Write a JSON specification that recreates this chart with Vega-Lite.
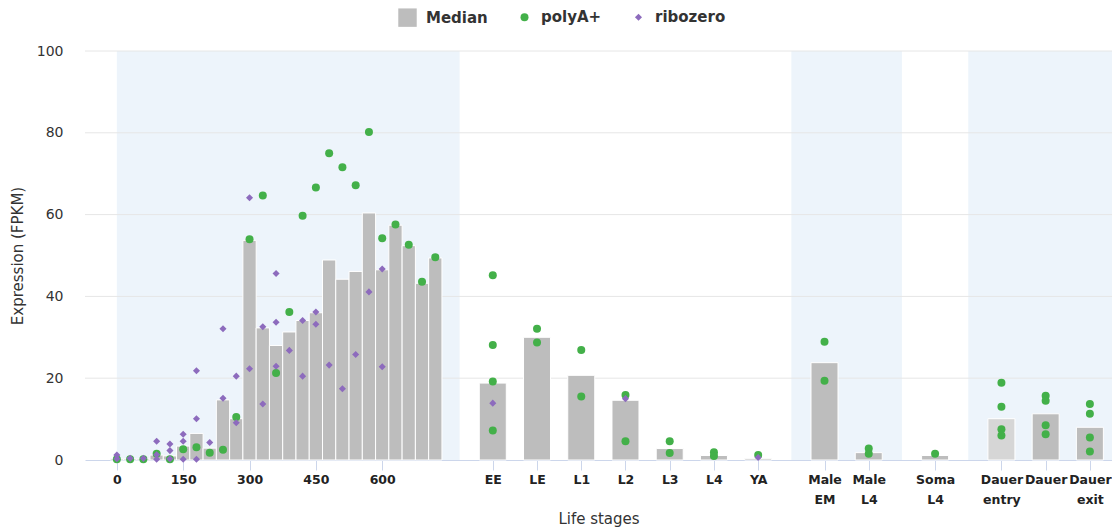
{
  "$schema": "https://vega.github.io/schema/vega-lite/v6.json",
  "width": 1027,
  "height": 409,
  "autosize": "none",
  "padding": {"left": 85, "top": 51, "right": 0, "bottom": 71},
  "background": "white",
  "config": {"font": "DejaVu Sans", "view": {"stroke": null}},
  "datasets": {
    "bands": [
      {"label": "Embryonic time series (minutes)", "pos": 0, "end": 775},
      {"label": "Classical stages", "pos": 775, "end": 1525},
      {"label": "Male", "pos": 1525, "end": 1775},
      {"label": "Soma", "pos": 1775, "end": 1925},
      {"label": "Dauer stages", "pos": 1925, "end": 2275}
    ],
    "grid": [{"g": 20}, {"g": 40}, {"g": 60}, {"g": 80}, {"g": 100}],
    "expr": [
      {"stage": "0", "pos": 0, "series": "Median", "value": 0.3},
      {"stage": "30", "pos": 30, "series": "Median", "value": 0.3},
      {"stage": "60", "pos": 60, "series": "Median", "value": 0.3},
      {"stage": "90", "pos": 90, "series": "Median", "value": 1.2},
      {"stage": "120", "pos": 120, "series": "Median", "value": 1.0},
      {"stage": "150", "pos": 150, "series": "Median", "value": 3.4},
      {"stage": "180", "pos": 180, "series": "Median", "value": 6.5},
      {"stage": "210", "pos": 210, "series": "Median", "value": 2.9},
      {"stage": "240", "pos": 240, "series": "Median", "value": 14.7},
      {"stage": "270", "pos": 270, "series": "Median", "value": 10.1},
      {"stage": "300", "pos": 300, "series": "Median", "value": 53.7},
      {"stage": "330", "pos": 330, "series": "Median", "value": 32.3},
      {"stage": "360", "pos": 360, "series": "Median", "value": 28.0},
      {"stage": "390", "pos": 390, "series": "Median", "value": 31.3},
      {"stage": "420", "pos": 420, "series": "Median", "value": 34.1},
      {"stage": "450", "pos": 450, "series": "Median", "value": 36.0},
      {"stage": "480", "pos": 480, "series": "Median", "value": 48.9},
      {"stage": "510", "pos": 510, "series": "Median", "value": 44.2},
      {"stage": "540", "pos": 540, "series": "Median", "value": 46.1},
      {"stage": "570", "pos": 570, "series": "Median", "value": 60.4},
      {"stage": "600", "pos": 600, "series": "Median", "value": 46.5},
      {"stage": "630", "pos": 630, "series": "Median", "value": 57.4},
      {"stage": "660", "pos": 660, "series": "Median", "value": 52.4},
      {"stage": "690", "pos": 690, "series": "Median", "value": 43.2},
      {"stage": "720", "pos": 720, "series": "Median", "value": 49.4},
      {"stage": "EE", "pos": 850, "series": "Median", "value": 18.8},
      {"stage": "LE", "pos": 950, "series": "Median", "value": 30.0},
      {"stage": "L1", "pos": 1050, "series": "Median", "value": 20.7},
      {"stage": "L2", "pos": 1150, "series": "Median", "value": 14.6},
      {"stage": "L3", "pos": 1250, "series": "Median", "value": 2.8},
      {"stage": "L4", "pos": 1350, "series": "Median", "value": 1.1},
      {"stage": "YA", "pos": 1450, "series": "Median", "value": 0.4},
      {"stage": "Male EM", "pos": 1600, "series": "Median", "value": 23.8},
      {"stage": "Male L4", "pos": 1700, "series": "Median", "value": 1.8},
      {"stage": "Soma L4", "pos": 1850, "series": "Median", "value": 1.1},
      {"stage": "Dauer entry", "pos": 2000, "series": "Median", "value": 10.1},
      {"stage": "Dauer", "pos": 2100, "series": "Median", "value": 11.3},
      {"stage": "Dauer exit", "pos": 2200, "series": "Median", "value": 8.0},

      {"stage": "0", "pos": 0, "series": "polyA+", "value": 0.2},
      {"stage": "30", "pos": 30, "series": "polyA+", "value": 0.2},
      {"stage": "60", "pos": 60, "series": "polyA+", "value": 0.2},
      {"stage": "90", "pos": 90, "series": "polyA+", "value": 1.5},
      {"stage": "120", "pos": 120, "series": "polyA+", "value": 0.2},
      {"stage": "150", "pos": 150, "series": "polyA+", "value": 2.6},
      {"stage": "180", "pos": 180, "series": "polyA+", "value": 3.1},
      {"stage": "210", "pos": 210, "series": "polyA+", "value": 1.8},
      {"stage": "240", "pos": 240, "series": "polyA+", "value": 2.5},
      {"stage": "270", "pos": 270, "series": "polyA+", "value": 10.5},
      {"stage": "300", "pos": 300, "series": "polyA+", "value": 54.0},
      {"stage": "330", "pos": 330, "series": "polyA+", "value": 64.7},
      {"stage": "360", "pos": 360, "series": "polyA+", "value": 21.3},
      {"stage": "390", "pos": 390, "series": "polyA+", "value": 36.2},
      {"stage": "420", "pos": 420, "series": "polyA+", "value": 59.7},
      {"stage": "450", "pos": 450, "series": "polyA+", "value": 66.6},
      {"stage": "480", "pos": 480, "series": "polyA+", "value": 75.0},
      {"stage": "510", "pos": 510, "series": "polyA+", "value": 71.6},
      {"stage": "540", "pos": 540, "series": "polyA+", "value": 67.2},
      {"stage": "570", "pos": 570, "series": "polyA+", "value": 80.2},
      {"stage": "600", "pos": 600, "series": "polyA+", "value": 54.2},
      {"stage": "630", "pos": 630, "series": "polyA+", "value": 57.6},
      {"stage": "660", "pos": 660, "series": "polyA+", "value": 52.6},
      {"stage": "690", "pos": 690, "series": "polyA+", "value": 43.6},
      {"stage": "720", "pos": 720, "series": "polyA+", "value": 49.6},
      {"stage": "EE", "pos": 850, "series": "polyA+", "value": 45.2},
      {"stage": "EE", "pos": 850, "series": "polyA+", "value": 28.1},
      {"stage": "EE", "pos": 850, "series": "polyA+", "value": 19.2},
      {"stage": "EE", "pos": 850, "series": "polyA+", "value": 7.2},
      {"stage": "LE", "pos": 950, "series": "polyA+", "value": 32.1},
      {"stage": "LE", "pos": 950, "series": "polyA+", "value": 28.7},
      {"stage": "L1", "pos": 1050, "series": "polyA+", "value": 26.9},
      {"stage": "L1", "pos": 1050, "series": "polyA+", "value": 15.5},
      {"stage": "L2", "pos": 1150, "series": "polyA+", "value": 15.9},
      {"stage": "L2", "pos": 1150, "series": "polyA+", "value": 4.6},
      {"stage": "L3", "pos": 1250, "series": "polyA+", "value": 4.6},
      {"stage": "L3", "pos": 1250, "series": "polyA+", "value": 1.7},
      {"stage": "L4", "pos": 1350, "series": "polyA+", "value": 1.9},
      {"stage": "L4", "pos": 1350, "series": "polyA+", "value": 1.0},
      {"stage": "YA", "pos": 1450, "series": "polyA+", "value": 1.2},
      {"stage": "Male EM", "pos": 1600, "series": "polyA+", "value": 28.9},
      {"stage": "Male EM", "pos": 1600, "series": "polyA+", "value": 19.4},
      {"stage": "Male L4", "pos": 1700, "series": "polyA+", "value": 2.8},
      {"stage": "Male L4", "pos": 1700, "series": "polyA+", "value": 1.5},
      {"stage": "Soma L4", "pos": 1850, "series": "polyA+", "value": 1.5},
      {"stage": "Dauer entry", "pos": 2000, "series": "polyA+", "value": 18.9},
      {"stage": "Dauer entry", "pos": 2000, "series": "polyA+", "value": 13.0},
      {"stage": "Dauer entry", "pos": 2000, "series": "polyA+", "value": 7.5},
      {"stage": "Dauer entry", "pos": 2000, "series": "polyA+", "value": 6.0},
      {"stage": "Dauer", "pos": 2100, "series": "polyA+", "value": 15.7},
      {"stage": "Dauer", "pos": 2100, "series": "polyA+", "value": 14.5},
      {"stage": "Dauer", "pos": 2100, "series": "polyA+", "value": 8.5},
      {"stage": "Dauer", "pos": 2100, "series": "polyA+", "value": 6.3},
      {"stage": "Dauer exit", "pos": 2200, "series": "polyA+", "value": 13.7},
      {"stage": "Dauer exit", "pos": 2200, "series": "polyA+", "value": 11.3},
      {"stage": "Dauer exit", "pos": 2200, "series": "polyA+", "value": 5.5},
      {"stage": "Dauer exit", "pos": 2200, "series": "polyA+", "value": 2.1},

      {"stage": "0", "pos": 0, "series": "ribozero", "value": 1.2},
      {"stage": "0", "pos": 0, "series": "ribozero", "value": 0.3},
      {"stage": "30", "pos": 30, "series": "ribozero", "value": 0.4},
      {"stage": "60", "pos": 60, "series": "ribozero", "value": 0.4},
      {"stage": "90", "pos": 90, "series": "ribozero", "value": 4.6},
      {"stage": "90", "pos": 90, "series": "ribozero", "value": 1.3},
      {"stage": "90", "pos": 90, "series": "ribozero", "value": 0.2},
      {"stage": "120", "pos": 120, "series": "ribozero", "value": 3.9},
      {"stage": "120", "pos": 120, "series": "ribozero", "value": 2.3},
      {"stage": "120", "pos": 120, "series": "ribozero", "value": 0.3},
      {"stage": "150", "pos": 150, "series": "ribozero", "value": 6.3},
      {"stage": "150", "pos": 150, "series": "ribozero", "value": 4.6},
      {"stage": "150", "pos": 150, "series": "ribozero", "value": 0.2},
      {"stage": "180", "pos": 180, "series": "ribozero", "value": 21.8},
      {"stage": "180", "pos": 180, "series": "ribozero", "value": 10.1},
      {"stage": "180", "pos": 180, "series": "ribozero", "value": 0.2},
      {"stage": "210", "pos": 210, "series": "ribozero", "value": 4.3},
      {"stage": "240", "pos": 240, "series": "ribozero", "value": 32.1},
      {"stage": "240", "pos": 240, "series": "ribozero", "value": 15.1},
      {"stage": "270", "pos": 270, "series": "ribozero", "value": 20.5},
      {"stage": "270", "pos": 270, "series": "ribozero", "value": 9.1},
      {"stage": "300", "pos": 300, "series": "ribozero", "value": 64.1},
      {"stage": "300", "pos": 300, "series": "ribozero", "value": 22.3},
      {"stage": "330", "pos": 330, "series": "ribozero", "value": 32.6},
      {"stage": "330", "pos": 330, "series": "ribozero", "value": 13.7},
      {"stage": "360", "pos": 360, "series": "ribozero", "value": 45.6},
      {"stage": "360", "pos": 360, "series": "ribozero", "value": 33.7},
      {"stage": "360", "pos": 360, "series": "ribozero", "value": 22.9},
      {"stage": "390", "pos": 390, "series": "ribozero", "value": 26.8},
      {"stage": "420", "pos": 420, "series": "ribozero", "value": 34.1},
      {"stage": "420", "pos": 420, "series": "ribozero", "value": 20.5},
      {"stage": "450", "pos": 450, "series": "ribozero", "value": 36.2},
      {"stage": "450", "pos": 450, "series": "ribozero", "value": 33.2},
      {"stage": "480", "pos": 480, "series": "ribozero", "value": 23.2},
      {"stage": "510", "pos": 510, "series": "ribozero", "value": 17.4},
      {"stage": "540", "pos": 540, "series": "ribozero", "value": 25.8},
      {"stage": "570", "pos": 570, "series": "ribozero", "value": 41.1},
      {"stage": "600", "pos": 600, "series": "ribozero", "value": 46.7},
      {"stage": "600", "pos": 600, "series": "ribozero", "value": 22.8},
      {"stage": "EE", "pos": 850, "series": "ribozero", "value": 13.9},
      {"stage": "L2", "pos": 1150, "series": "ribozero", "value": 15.0},
      {"stage": "YA", "pos": 1450, "series": "ribozero", "value": 0.6}
    ]
  },
  "encoding": {
    "x": {
      "field": "pos", "type": "quantitative", "title": "Life stages",
      "scale": {"domain": [-72, 2250], "nice": false, "zero": false, "padding": 0},
      "axis": {
        "values": [0, 150, 300, 450, 600, 850, 950, 1050, 1150, 1250, 1350, 1450, 1600, 1700, 1850, 2000, 2100, 2200],
        "labelExpr": "datum.value == 850 ? 'EE' : datum.value == 950 ? 'LE' : datum.value == 1050 ? 'L1' : datum.value == 1150 ? 'L2' : datum.value == 1250 ? 'L3' : datum.value == 1350 ? 'L4' : datum.value == 1450 ? 'YA' : datum.value == 1600 ? ['Male', 'EM'] : datum.value == 1700 ? ['Male', 'L4'] : datum.value == 1850 ? ['Soma', 'L4'] : datum.value == 2000 ? ['Dauer', 'entry'] : datum.value == 2100 ? 'Dauer' : datum.value == 2200 ? ['Dauer', 'exit'] : datum.label",
        "grid": false,
        "domainColor": "#ccd6eb",
        "tickColor": "#ccd6eb",
        "tickSize": 10,
        "labelFontSize": 12.5,
        "labelFontWeight": "bold",
        "labelColor": "#222222",
        "labelPadding": 3,
        "labelOverlap": false,
        "labelFlush": false,
        "labelBound": false,
        "labelLineHeight": 20,
        "titleFontSize": 15,
        "titleFontWeight": "normal",
        "titleColor": "#333333",
        "titlePadding": 6
      }
    },
    "y": {
      "field": "value", "type": "quantitative", "title": "Expression (FPKM)",
      "scale": {"domain": [0, 100], "nice": false},
      "axis": {
        "values": [0, 20, 40, 60, 80, 100],
        "grid": false,
        "domain": false,
        "ticks": false,
        "labelFontSize": 14,
        "labelColor": "#333333",
        "labelPadding": 22,
        "titleFontSize": 15,
        "titleFontWeight": "normal",
        "titleColor": "#333333",
        "titlePadding": 11
      }
    }
  },
  "layer": [
    {
      "data": {"name": "bands"},
      "transform": [{"filter": "indexof(['Embryonic time series (minutes)', 'Male', 'Dauer stages'], datum.label) >= 0"}, {"calculate": "100", "as": "value"}],
      "mark": {"type": "rect", "color": "#edf4fb", "clip": true},
      "encoding": {
        "x2": {"field": "end"},
        "y2": {"datum": 0}
      }
    },
    {
      "data": {"name": "grid"},
      "transform": [{"calculate": "-72", "as": "pos"}, {"calculate": "2250", "as": "end"}],
      "mark": {"type": "rule", "color": "#e6e6e6", "strokeWidth": 1},
      "encoding": {
        "x2": {"field": "end"},
        "y": {"field": "g", "type": "quantitative", "title": "Expression (FPKM)", "scale": {"domain": [0, 100], "nice": false}}
      }
    },
    {
      "data": {"name": "bands"},
      "transform": [{"calculate": "(datum.pos + datum.end) / 2", "as": "mid"}],
      "mark": {"type": "text", "fontSize": 15.5, "color": "#333333", "baseline": "middle", "align": "center"},
      "encoding": {
        "x": {"field": "mid", "type": "quantitative", "title": "Life stages", "scale": {"domain": [-72, 2250], "nice": false, "zero": false, "padding": 0}},
        "y": {"datum": 96.2, "type": "quantitative", "title": "Expression (FPKM)", "scale": {"domain": [0, 100], "nice": false}},
        "text": {"field": "label"}
      }
    },
    {
      "data": {"name": "expr"},
      "transform": [{"filter": "datum.series === 'Median'"}],
      "mark": {"type": "bar", "orient": "vertical", "stroke": "white", "strokeWidth": 1},
      "encoding": {
        "size": {"condition": {"test": "datum.pos <= 720", "value": 13.3}, "value": 27},
        "color": {"condition": {"test": "datum.stage === 'Dauer entry'", "value": "#d6d6d6"}, "value": "#bdbdbd"}
      }
    },
    {
      "data": {"name": "expr"},
      "transform": [{"filter": "datum.series !== 'Median'"}],
      "mark": {"type": "point", "filled": true, "opacity": 1},
      "encoding": {
        "color": {
          "field": "series", "type": "nominal", "title": null,
          "scale": {"domain": ["Median", "polyA+", "ribozero"], "range": ["#bdbdbd", "#43b049", "#8d6bbd"]},
          "legend": {"orient": "none", "legendX": 313, "legendY": -43, "direction": "horizontal", "labelFontSize": 15, "labelFontWeight": "bold", "labelColor": "#333333", "labelOffset": 9, "columnPadding": 29, "symbolStrokeWidth": 0}
        },
        "shape": {
          "field": "series", "type": "nominal", "title": null,
          "scale": {"domain": ["Median", "polyA+", "ribozero"], "range": ["square", "circle", "diamond"]},
          "legend": {"orient": "none", "legendX": 313, "legendY": -43, "direction": "horizontal", "labelFontSize": 15, "labelFontWeight": "bold", "labelColor": "#333333", "labelOffset": 9, "columnPadding": 29, "symbolStrokeWidth": 0}
        },
        "size": {
          "field": "series", "type": "nominal", "title": null,
          "scale": {"type": "ordinal", "domain": ["Median", "polyA+", "ribozero"], "range": [340, 64, 50]},
          "legend": {"orient": "none", "legendX": 313, "legendY": -43, "direction": "horizontal", "labelFontSize": 15, "labelFontWeight": "bold", "labelColor": "#333333", "labelOffset": 9, "columnPadding": 29, "symbolStrokeWidth": 0}
        }
      }
    }
  ]
}
